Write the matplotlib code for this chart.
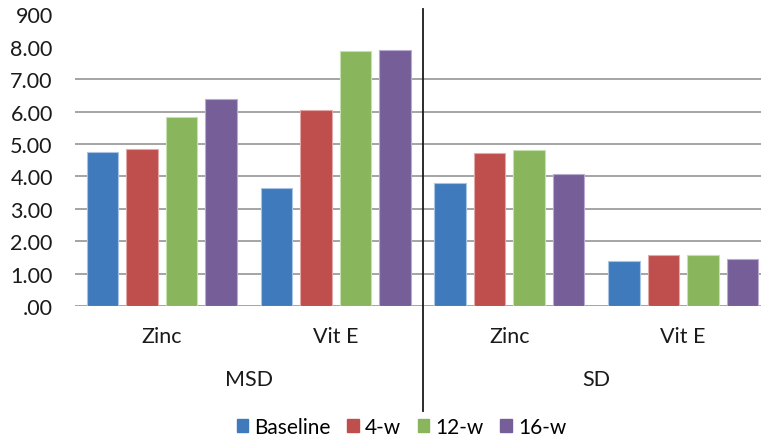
import matplotlib
matplotlib.use("Agg")
import matplotlib.pyplot as plt
import matplotlib.transforms as mtransforms
from matplotlib.patches import Patch
import numpy as np

# ---- data ----
groups = ["MSD", "SD"]
categories = ["Zinc", "Vit E", "Zinc", "Vit E"]
series_names = ["Baseline", "4-w", "12-w", "16-w"]
baseline = [4.76, 3.63, 3.79, 1.38]
week4 = [4.85, 6.04, 4.71, 1.56]
week12 = [5.84, 7.86, 4.81, 1.56]
week16 = [6.40, 7.91, 4.06, 1.45]
ytick_values = [0, 1, 2, 3, 4, 5, 6, 7, 8, 9]
ytick_labels = [".00", "1.00", "2.00", "3.00", "4.00", "5.00", "6.00", "7.00", "8.00", "900"]
grid_values = [0, 1, 2, 3, 4, 5, 6, 7]

colors = ["#3F7BBC", "#BE4F4C", "#89B55D", "#765F98"]
edges = ["#A9C3E2", "#E3A9A8", "#C8DFB2", "#B9AACF"]

plt.rcParams["font.family"] = ["Lato", "DejaVu Sans"]
FS = 15.5

W, H = 761, 439
fig = plt.figure(figsize=(W / 100, H / 100), dpi=100)
left_px, right_px, top_px, bot_px = 75, 770, 15.4, 307
ax = fig.add_axes([left_px / W, 1 - bot_px / H, (right_px - left_px) / W, (bot_px - top_px) / H])

x = np.arange(len(categories))
pitch = 0.227
width = 0.181
all_series = [baseline, week4, week12, week16]
for i, (vals, c, e, name) in enumerate(zip(all_series, colors, edges, series_names)):
    ax.bar(x + (i - 1.5) * pitch, vals, width=width, color=c, edgecolor=e,
           linewidth=0.8, label=name, zorder=3)

for g in grid_values:
    ax.axhline(g, color="#8C8C8C", linewidth=1.1, zorder=2)

ax.set_xlim(-0.5, len(categories) - 0.5)
ax.set_ylim(0, 9)
ax.set_yticks(ytick_values)
ax.set_yticklabels(ytick_labels, fontsize=FS, color="#1a1a1a")
ax.tick_params(axis="y", length=0, pad=16)
ax.set_xticks([])
for s in ax.spines.values():
    s.set_visible(False)

# category labels
trans = mtransforms.blended_transform_factory(ax.transData, ax.transAxes)
axh = bot_px - top_px
for xi, cat in zip(x, categories):
    ax.text(xi, (bot_px - 343.3) / axh, cat, transform=trans, ha="center",
            va="baseline", fontsize=FS, color="#1a1a1a")
n_per_group = len(categories) // len(groups)
for gi, g in enumerate(groups):
    cx = gi * n_per_group + (n_per_group - 1) / 2
    ax.text(cx, (bot_px - 386) / axh, g, transform=trans, ha="center",
            va="baseline", fontsize=FS, color="#1a1a1a")

# separator between groups
ax.axvline(n_per_group - 0.5, ymin=(bot_px - 412) / axh, ymax=(bot_px - 10) / axh,
           color="#1a1a1a", linewidth=1.3, clip_on=False, zorder=4)

handles = [Patch(facecolor=c, edgecolor=c) for c in colors]
fig.legend(handles, series_names, loc="center", ncol=4, frameon=False,
           bbox_to_anchor=(401.5 / W, 1 - 428 / H), fontsize=15,
           handlelength=0.55, handleheight=0.55, handletextpad=0.3,
           columnspacing=0.8, borderpad=0.2)

fig.savefig("out.png", dpi=100)
